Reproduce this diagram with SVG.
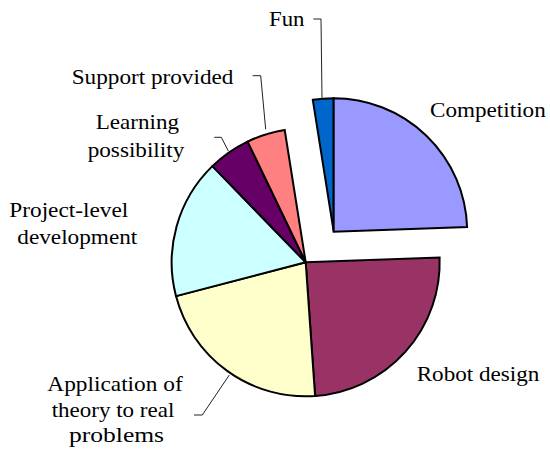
<svg xmlns="http://www.w3.org/2000/svg" width="550" height="451" viewBox="0 0 550 451">
<style>
.slice{stroke:#000;stroke-width:2;stroke-linejoin:miter}
.lead{fill:none;stroke:#222;stroke-width:1}
text{font-family:"Times New Roman","Liberation Serif",Tinos,serif;font-size:21px;fill:#000}
</style>
<rect width="550" height="451" fill="#fff"/>
<g id="slice-fun"><path class="slice" fill="#0066CC" d="M333.7,231.7 L312.8,99.8 A133.5,133.5 0 0 1 333.7,98.2 Z"/></g>
<g id="slice-competition"><path class="slice" fill="#9999FF" d="M333.7,231.7 L333.7,98.2 A133.5,133.5 0 0 1 467.1,227.0 Z"/></g>
<g id="slice-robot"><path class="slice" fill="#993366" d="M305.7,262.3 L439.6,257.6 A134,134 0 0 1 315.1,396.0 Z"/></g>
<g id="slice-application"><path class="slice" fill="#FFFFCC" d="M305.7,262.3 L315.1,396.0 A134,134 0 0 1 176.0,296.1 Z"/></g>
<g id="slice-project"><path class="slice" fill="#CCFFFF" d="M305.7,262.3 L176.0,296.1 A134,134 0 0 1 212.4,166.1 Z"/></g>
<g id="slice-learning"><path class="slice" fill="#660066" d="M305.7,262.3 L212.4,166.1 A134,134 0 0 1 247.6,141.6 Z"/></g>
<g id="slice-support"><path class="slice" fill="#FF8080" d="M305.7,262.3 L247.6,141.6 A134,134 0 0 1 284.7,130.0 Z"/></g>
<g id="connectors">
<polyline class="lead" points="313.3,19 321,19 322,98.3"/>
<polyline class="lead" points="252.7,75.7 260.7,75.7 265.7,129.3"/>
<polyline class="lead" points="214.3,137.3 221.3,137.3 228.3,151"/>
<polyline class="lead" points="194,415 202.3,415 229.3,375"/>
</g>
<g id="labels">
<text x="269" y="26" textLength="35.5" lengthAdjust="spacingAndGlyphs">Fun</text>
<text x="71.7" y="84" textLength="161.7" lengthAdjust="spacingAndGlyphs">Support provided</text>
<text x="95.7" y="129.3" textLength="83.3" lengthAdjust="spacingAndGlyphs">Learning</text>
<text x="87.7" y="156.7" textLength="96.6" lengthAdjust="spacingAndGlyphs">possibility</text>
<text x="9.3" y="216.7" textLength="119" lengthAdjust="spacingAndGlyphs">Project-level</text>
<text x="17.3" y="244.3" textLength="120" lengthAdjust="spacingAndGlyphs">development</text>
<text x="47.3" y="390.7" textLength="135.4" lengthAdjust="spacingAndGlyphs">Application of</text>
<text x="51.7" y="416.7" textLength="122.6" lengthAdjust="spacingAndGlyphs">theory to real</text>
<text x="69" y="441.7" textLength="95" lengthAdjust="spacingAndGlyphs">problems</text>
<text x="430" y="117.3" textLength="115.7" lengthAdjust="spacingAndGlyphs">Competition</text>
<text x="416.7" y="380.7" textLength="122.6" lengthAdjust="spacingAndGlyphs">Robot design</text>
</g>
</svg>
